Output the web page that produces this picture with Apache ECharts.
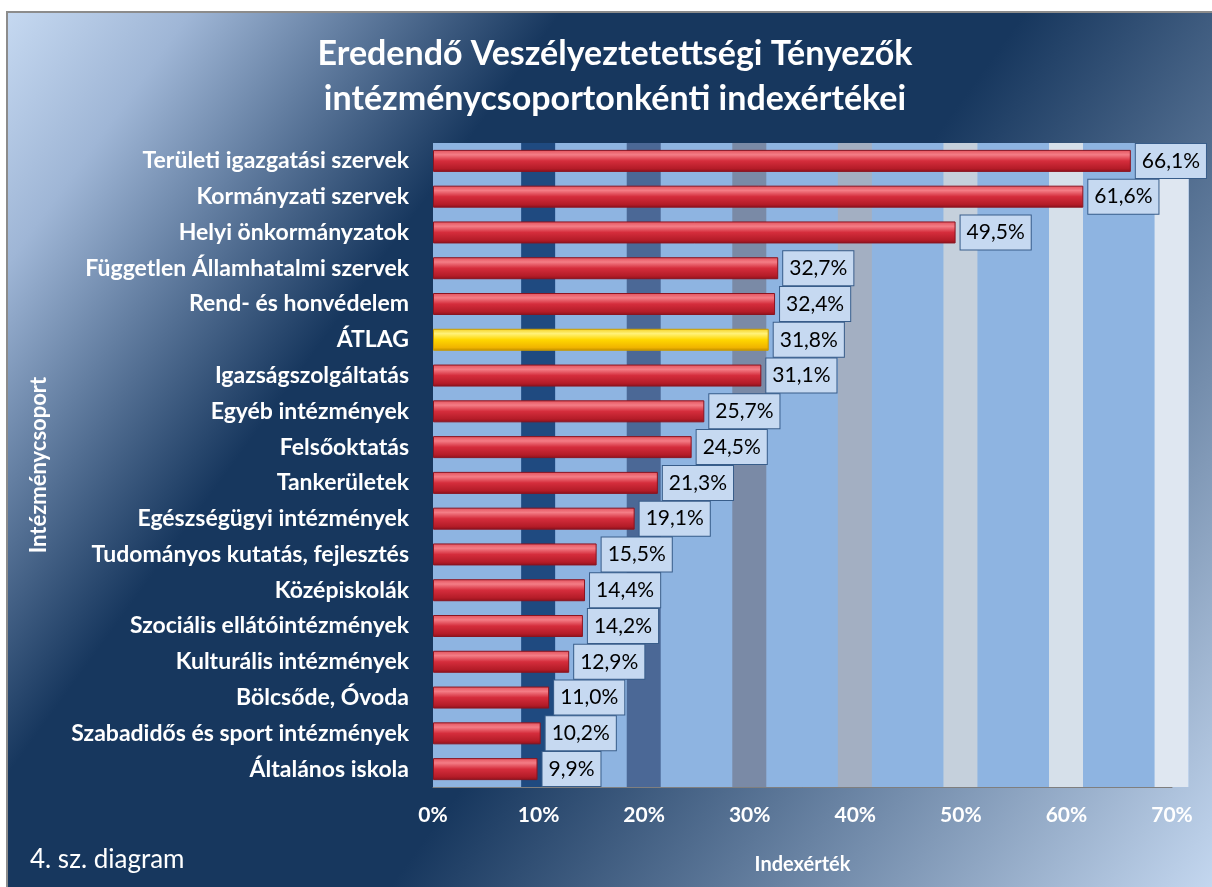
<!DOCTYPE html>
<html>
<head>
<meta charset="utf-8">
<script src="https://cdn.jsdelivr.net/npm/echarts@6/dist/echarts.min.js"></script>
<style>
  html, body { margin: 0; padding: 0; background: #fff; }
  #main { width: 1212px; height: 887px; }
</style>
</head>
<body>
<div id="main"></div>
<script>
const categories = [
  'Területi igazgatási szervek',
  'Kormányzati szervek',
  'Helyi önkormányzatok',
  'Független Államhatalmi szervek',
  'Rend- és honvédelem',
  'ÁTLAG',
  'Igazságszolgáltatás',
  'Egyéb intézmények',
  'Felsőoktatás',
  'Tankerületek',
  'Egészségügyi intézmények',
  'Tudományos kutatás, fejlesztés',
  'Középiskolák',
  'Szociális ellátóintézmények',
  'Kulturális intézmények',
  'Bölcsőde, Óvoda',
  'Szabadidős és sport intézmények',
  'Általános iskola'
]
const values = [66.1, 61.6, 49.5, 32.7, 32.4, 31.8, 31.1, 25.7, 24.5, 21.3, 19.1, 15.5, 14.4, 14.2, 12.9, 11.0, 10.2, 9.9]
const highlight = 'ÁTLAG'

// decorative stripes of the plot area picture fill
const stripeStarts = [8.35, 18.35, 28.35, 38.35, 48.35, 58.35, 68.35]
const stripeColors = ['#1f4a80', '#4b6896', '#7a8aa6', '#a3afc2', '#c5d0dc', '#d6e0ea', '#dfe7f1']

const FONT = 'Lato'

const redFill = new echarts.graphic.LinearGradient(0, 0, 0, 1, [
  { offset: 0, color: '#e2505b' },
  { offset: 0.22, color: '#f47d86' },
  { offset: 0.5, color: '#d52d3c' },
  { offset: 0.85, color: '#b41c28' },
  { offset: 1, color: '#8c111b' }
])
const yellowFill = new echarts.graphic.LinearGradient(0, 0, 0, 1, [
  { offset: 0, color: '#f5d020' },
  { offset: 0.22, color: '#fff27a' },
  { offset: 0.5, color: '#ffd700' },
  { offset: 0.85, color: '#f0b400' },
  { offset: 1, color: '#c08c00' }
])

const barData = values.map((v, i) => ({
  value: v,
  itemStyle: {
    color: categories[i] === highlight ? yellowFill : redFill,
    borderColor: categories[i] === highlight ? '#c89a00' : '#8a1420',
    borderWidth: 1
  }
}))

const chart = echarts.init(document.getElementById('main'))

const option = {
  backgroundColor: '#ffffff',
  animation: false,
  title: {
    text: 'Eredendő Veszélyeztetettségi Tényezők\nintézménycsoportonkénti indexértékei',
    left: 610,
    textAlign: 'center',
    top: 27,
    textStyle: {
      color: '#ffffff',
      fontFamily: FONT,
      fontWeight: 'bold',
      fontSize: 34,
      lineHeight: 45
    }
  },
  grid: { left: 433, right: 40, top: 143, bottom: 100 },
  xAxis: {
    type: 'value',
    min: 0,
    max: 70,
    interval: 10,
    axisLine: { show: true, lineStyle: { color: '#7f7f7f', width: 1 } },
    axisTick: { show: false },
    splitLine: { show: false },
    axisLabel: {
      formatter: '{value}%',
      color: '#ffffff',
      fontFamily: FONT,
      fontWeight: 'bold',
      fontSize: 21,
      margin: 18
    },
    name: 'Indexérték',
    nameLocation: 'middle',
    nameGap: 68,
    nameTextStyle: { color: '#ffffff', fontFamily: FONT, fontWeight: 'bold', fontSize: 20 }
  },
  yAxis: {
    type: 'category',
    inverse: true,
    data: categories,
    axisLine: { show: false },
    axisTick: { show: false },
    axisLabel: {
      color: '#ffffff',
      fontFamily: FONT,
      fontWeight: 'bold',
      fontSize: 23,
      margin: 24
    },
    name: 'Intézménycsoport',
    nameLocation: 'middle',
    nameRotate: 90,
    nameGap: 383,
    nameTextStyle: { color: '#ffffff', fontFamily: FONT, fontWeight: 'bold', fontSize: 22 }
  },
  series: [
    {
      type: 'bar',
      data: barData,
      barWidth: 22,
      z: 5,
      label: {
        show: true,
        position: 'right',
        distance: 5,
        formatter: p => p.value.toFixed(1).replace('.', ',') + '%',
        color: '#000000',
        fontFamily: FONT,
        fontSize: 21,
        backgroundColor: '#c6d9f1',
        borderColor: '#385d8a',
        borderWidth: 1,
        padding: [7, 6, 6, 6]
      }
    }
  ]
}

chart.setOption(option)

// background pieces placed with the axis scale
const x0 = chart.convertToPixel({ xAxisIndex: 0 }, 0)
const px = v => chart.convertToPixel({ xAxisIndex: 0 }, v)
const plotTop = 143, plotBottom = 787
const stripeW = px(3.22) - x0

const graphics = [
  {
    type: 'rect', z: -20, silent: true,
    shape: { x: 7, y: 12, width: 1212, height: 880 },
    style: {
      fill: new echarts.graphic.LinearGradient(0, 0, 1, 1, [
        { offset: 0, color: '#c6d9f1' },
        { offset: 0.1, color: '#9fb6d6' },
        { offset: 0.3, color: '#17375e' },
        { offset: 0.55, color: '#17375e' },
        { offset: 1, color: '#c6d9f1' }
      ]),
      stroke: '#8c8c8c',
      lineWidth: 2
    }
  },
  {
    type: 'rect', z: -15, silent: true,
    shape: { x: x0, y: plotTop, width: px(71.6) - x0, height: plotBottom - plotTop },
    style: { fill: '#8eb4e1' }
  }
]
stripeStarts.forEach((s, i) => {
  graphics.push({
    type: 'rect', z: -14, silent: true,
    shape: { x: px(s), y: plotTop, width: stripeW, height: plotBottom - plotTop },
    style: { fill: stripeColors[i] }
  })
})
graphics.push({
  type: 'text', z: 10,
  left: 30, top: 847,
  style: { text: '4. sz. diagram', fill: '#ffffff', font: '26px ' + FONT }
})

chart.setOption({ graphic: graphics })
</script>
</body>
</html>
